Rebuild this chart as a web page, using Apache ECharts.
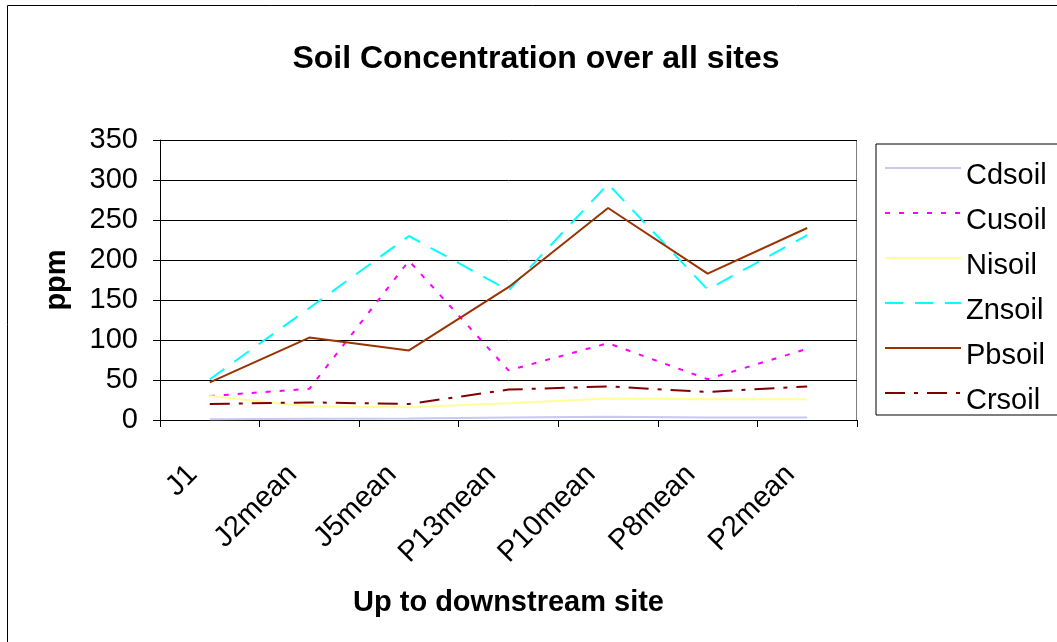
<!DOCTYPE html>
<html>
<head>
<meta charset="utf-8">
<script src="https://cdn.jsdelivr.net/npm/echarts@6/dist/echarts.min.js"></script>
<style>
html,body{margin:0;padding:0;background:#fff;}
#chart{width:1057px;height:642px;}
</style>
</head>
<body>
<div id="chart"></div>
<script>
const categories = ['J1','J2mean','J5mean','P13mean','P10mean','P8mean','P2mean'];
const cdsoil = [1, 1.5, 2, 3, 4, 3, 3];
const cusoil = [30, 39, 199, 62, 96, 51, 89];
const nisoil = [30, 17, 16, 21, 27, 26, 26];
const znsoil = [51, 140, 230, 162, 295, 163, 231];
const pbsoil = [47, 103, 87, 166, 265, 183, 240];
const crsoil = [20, 22, 20, 38, 42, 35, 42];
const yTicks = [0, 50, 100, 150, 200, 250, 300, 350];

const chart = echarts.init(document.getElementById('chart'));
const font = 'Liberation Sans, Arial, sans-serif';

function line(name, data, color, type) {
  return {
    name: name, type: 'line', data: data, symbol: 'none', showSymbol: false,
    lineStyle: { color: color, width: 2, type: type },
    itemStyle: { color: color },
    animation: false
  };
}

chart.setOption({
  backgroundColor: '#fff',
  animation: false,
  title: {
    text: 'Soil Concentration over all sites',
    left: 531, top: 38, textAlign: 'center',
    textStyle: { fontFamily: font, fontSize: 32, fontWeight: 'bold', color: '#000' }
  },
  graphic: [{
    type: 'rect', shape: { x: 7.5, y: 5.5, width: 1100, height: 700 },
    style: { fill: 'none', stroke: '#000', lineWidth: 1 }, z: -1
  }, {
    type: 'rect', shape: { x: 160.5, y: 140.5, width: 696, height: 280 },
    style: { fill: 'none', stroke: '#808080', lineWidth: 1 }, z: -1
  }],
  legend: {
    orient: 'vertical', left: 876, top: 144,
    padding: [2, 100, 0, 8],
    borderColor: '#000', borderWidth: 1,
    itemWidth: 76, itemHeight: 14, itemGap: 1,
    itemStyle: { color: 'transparent', borderWidth: 0, opacity: 0 },
    formatter: '{a|{name}}',
    textStyle: {
      fontFamily: font, fontSize: 29, color: '#000',
      rich: { a: { fontFamily: font, fontSize: 29, color: '#000', lineHeight: 29, padding: [15, 0, 0, 0] } }
    },
    data: ['Cdsoil','Cusoil','Nisoil','Znsoil','Pbsoil','Crsoil']
  },
  grid: { left: 160, right: 200, top: 140, bottom: 222 },
  xAxis: {
    type: 'category', data: categories, boundaryGap: true,
    name: 'Up to downstream site', nameLocation: 'middle', nameGap: 168,
    nameTextStyle: { fontFamily: font, fontSize: 29, fontWeight: 'bold', color: '#000' },
    axisLine: { lineStyle: { color: '#000', width: 1 } },
    axisTick: { show: true, length: 7, lineStyle: { color: '#000' } },
    axisLabel: { rotate: 45, margin: 33, padding: [0, 24, 0, 0], fontFamily: font, fontSize: 29, color: '#000' },
    splitLine: { show: false }
  },
  yAxis: {
    type: 'value', min: 0, max: 350, interval: 50,
    name: 'ppm', nameLocation: 'middle', nameGap: 89,
    nameTextStyle: { fontFamily: font, fontSize: 29, fontWeight: 'bold', color: '#000' },
    axisLine: { show: true, lineStyle: { color: '#000', width: 1 } },
    axisTick: { show: true, length: 7, lineStyle: { color: '#000' } },
    axisLabel: { margin: 22, fontFamily: font, fontSize: 29, color: '#000',
      formatter: function (v) { return yTicks.indexOf(v) >= 0 ? String(v) : ''; } },
    splitLine: { show: true, lineStyle: { color: '#000', width: 1 } }
  },
  series: [
    line('Cdsoil', cdsoil, '#C8C8F0', 'solid'),
    line('Cusoil', cusoil, '#FF00FF', [5, 9]),
    line('Nisoil', nisoil, '#FFFF99', 'solid'),
    line('Znsoil', znsoil, '#00FFFF', [18, 12]),
    line('Pbsoil', pbsoil, '#993300', 'solid'),
    line('Crsoil', crsoil, '#800000', [20, 9, 4, 9])
  ]
});
</script>
</body>
</html>
